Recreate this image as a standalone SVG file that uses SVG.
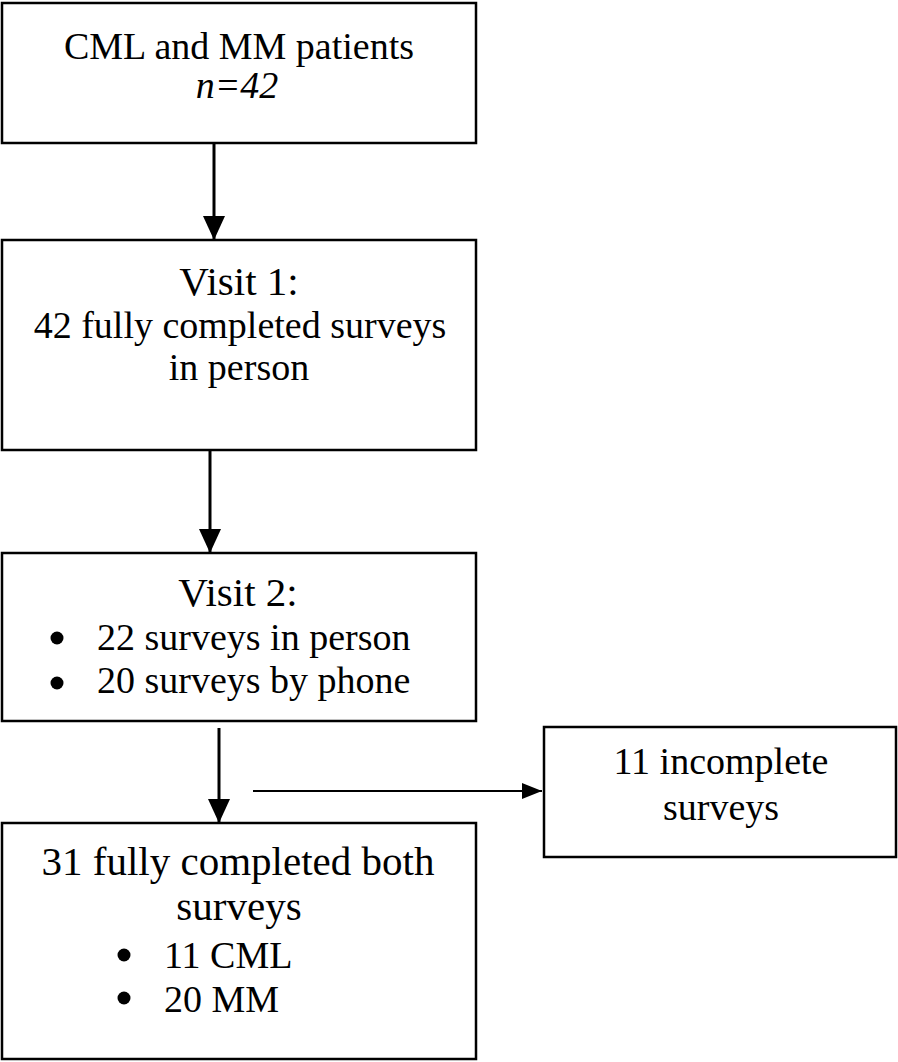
<svg xmlns="http://www.w3.org/2000/svg" width="898" height="1062" viewBox="0 0 898 1062">
<style>
.box{fill:#fff;stroke:#000;stroke-width:2.5}
.t{font-family:"Liberation Serif","Times New Roman",serif;font-size:38px;fill:#000}
.c{text-anchor:middle}
.big{font-size:41px}
.dot{fill:#000}
.con{stroke:#000;fill:none}
</style>
<defs>
<marker id="ah" markerUnits="userSpaceOnUse" markerWidth="24" markerHeight="24" viewBox="0 0 24 24" refX="24" refY="12" orient="auto">
<path d="M0,1 L24,12 L0,23 Z" fill="#000"/>
</marker>
<marker id="ahs" markerUnits="userSpaceOnUse" markerWidth="20" markerHeight="18" viewBox="0 0 20 18" refX="20" refY="9" orient="auto">
<path d="M0,1 L20,9 L0,17 Z" fill="#000"/>
</marker>
</defs>
<rect width="898" height="1062" fill="#fff"/>
<g id="connectors">
<line class="con" x1="214" y1="143" x2="214" y2="240" stroke-width="3" marker-end="url(#ah)"/>
<line class="con" x1="210" y1="450" x2="210" y2="553" stroke-width="3" marker-end="url(#ah)"/>
<line class="con" x1="219" y1="728" x2="219" y2="823" stroke-width="3" marker-end="url(#ah)"/>
<line class="con" x1="253" y1="791" x2="542" y2="791" stroke-width="2" marker-end="url(#ahs)"/>
</g>
<g id="patients">
<rect class="box" x="2" y="3" width="474" height="140"/>
<text class="t c" x="239" y="59">CML and MM patients</text>
<text class="t c" x="237" y="98" font-style="italic">n=42</text>
</g>
<g id="visit1">
<rect class="box" x="2" y="240" width="474" height="210"/>
<text class="t c big" x="239" y="295">Visit 1:</text>
<text class="t c" x="240" y="338">42 fully completed surveys</text>
<text class="t c" x="239" y="380">in person</text>
</g>
<g id="visit2">
<rect class="box" x="2" y="553" width="474" height="168"/>
<text class="t c big" x="238" y="606">Visit 2:</text>
<circle class="dot" cx="57" cy="638" r="6.5"/>
<text class="t" x="97" y="650">22 surveys in person</text>
<circle class="dot" cx="57" cy="683" r="6.5"/>
<text class="t" x="97" y="693">20 surveys by phone</text>
</g>
<g id="incomplete">
<rect class="box" x="544" y="727" width="352" height="130"/>
<text class="t c" x="721" y="774">11 incomplete</text>
<text class="t c" x="721" y="820">surveys</text>
</g>
<g id="completed">
<rect class="box" x="2" y="823" width="474" height="236"/>
<text class="t c big" x="238" y="875">31 fully completed both</text>
<text class="t c big" x="239" y="920">surveys</text>
<circle class="dot" cx="124" cy="955" r="6.5"/>
<text class="t" x="164" y="968">11 CML</text>
<circle class="dot" cx="124" cy="998" r="6.5"/>
<text class="t" x="164" y="1012">20 MM</text>
</g>
</svg>
